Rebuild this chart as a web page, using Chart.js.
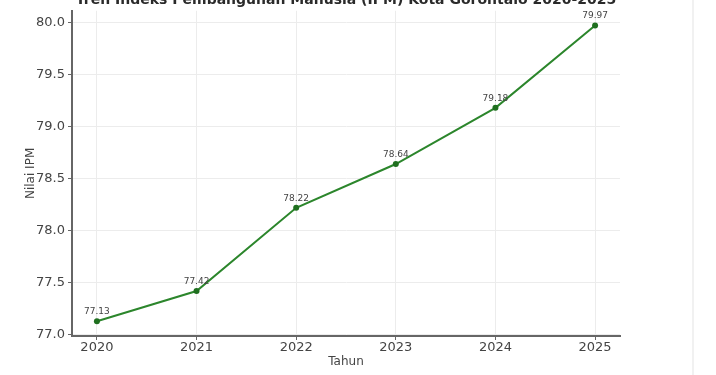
<!DOCTYPE html>
<html>
<head>
<meta charset="utf-8">
<script src="https://cdn.jsdelivr.net/npm/chart.js@4"></script>
<style>
  html, body { margin: 0; padding: 0; background: #fff; }
  #wrap { position: relative; width: 716px; height: 375px; }
  #edge { position: absolute; left: 692px; top: 0; width: 2px; height: 375px; background: #f1f1f1; }
</style>
</head>
<body>
<div id="wrap">
  <canvas id="ipmChart" width="716" height="375"></canvas>
  <div id="edge"></div>
</div>
<script>
// ---- data ----
const years = [2020, 2021, 2022, 2023, 2024, 2025];
const ipmValues = [77.13, 77.42, 78.22, 78.64, 79.18, 79.97];
const yTicks = [77.0, 77.5, 78.0, 78.5, 79.0, 79.5, 80.0];
const chartTitle = "Tren Indeks Pembangunan Manusia (IPM) Kota Gorontalo 2020-2025";

const FONT = "'DejaVu Sans', sans-serif";

// title (cut off at the top like the source) and point labels
const annotate = {
  id: "annotate",
  afterDatasetsDraw(chart) {
    const { ctx } = chart;
    const meta = chart.getDatasetMeta(0);
    ctx.save();
    ctx.fillStyle = "#444";
    ctx.font = "9px " + FONT;
    ctx.textAlign = "center";
    ctx.textBaseline = "bottom";
    meta.data.forEach((pt, i) => {
      ctx.fillText(ipmValues[i].toFixed(2), pt.x, pt.y - 5);
    });
    ctx.fillStyle = "#2a2a2a";
    ctx.font = "bold 14px " + FONT;
    ctx.textBaseline = "alphabetic";
    const a = chart.chartArea;
    ctx.fillText(chartTitle, (a.left + a.right) / 2, 4);
    ctx.restore();
  }
};

new Chart(document.getElementById("ipmChart"), {
  type: "line",
  data: {
    datasets: [{
      data: years.map((y, i) => ({ x: y, y: ipmValues[i] })),
      borderColor: "#2c862c",
      backgroundColor: "#1f6f1f",
      borderWidth: 2,
      pointRadius: 3,
      pointBorderWidth: 0,
      tension: 0,
      fill: false
    }]
  },
  options: {
    responsive: false,
    animation: false,
    layout: { padding: { top: 8, right: 96, bottom: 6, left: 24 } },
    plugins: { legend: { display: false }, tooltip: { enabled: false } },
    scales: {
      x: {
        type: "linear",
        min: 2019.75,
        max: 2025.25,
        afterBuildTicks: s => { s.ticks = years.map(v => ({ value: v })); },
        afterFit: s => { s.height = 33; },
        ticks: { color: "#444", font: { family: FONT, size: 13 }, padding: 0, callback: v => String(v) },
        grid: { color: "#ececec", tickColor: "#666", tickLength: 4 },
        border: { display: true, color: "#666", width: 2 },
        title: { display: true, text: "Tahun", color: "#444", font: { family: FONT, size: 12 }, padding: { top: 1, bottom: 0 } }
      },
      y: {
        min: 76.988,
        max: 80.112,
        afterBuildTicks: s => { s.ticks = yTicks.map(v => ({ value: v })); },
        afterFit: s => { s.width = 48; },
        ticks: { color: "#444", font: { family: FONT, size: 13 }, padding: 3, callback: v => Number(v).toFixed(1) },
        grid: { color: "#ececec", tickColor: "#666", tickLength: 4 },
        border: { display: true, color: "#666", width: 2 },
        title: { display: true, text: "Nilai IPM", color: "#444", font: { family: FONT, size: 12 }, padding: { top: 0, bottom: 0 } }
      }
    }
  },
  plugins: [annotate]
});
</script>
</body>
</html>
